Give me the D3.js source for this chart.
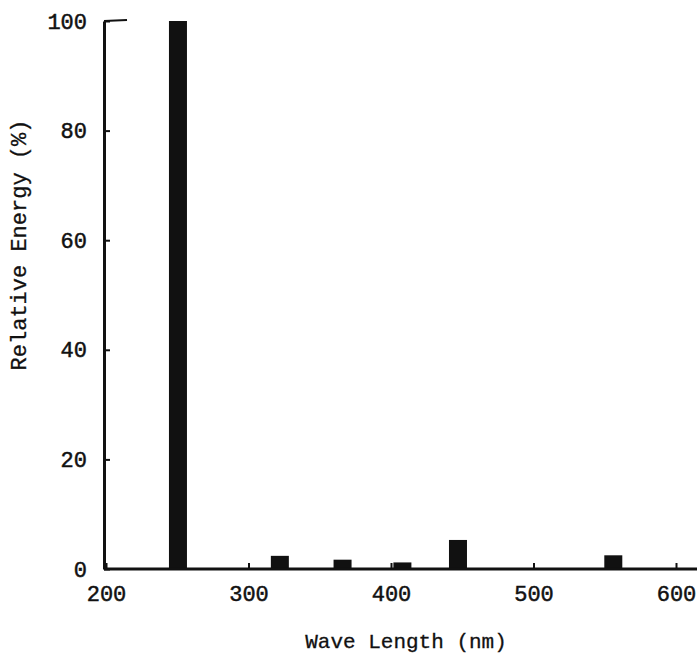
<!DOCTYPE html>
<html><head><meta charset="utf-8">
<script src="https://cdn.jsdelivr.net/npm/d3@7"></script>
<style>body{margin:0;background:#fff}</style>
</head><body>
<svg id="c" width="698" height="656"></svg>
<script>
const wavelengths = [250.5, 322, 366, 408, 447, 556];
const energies = [100, 2.4, 1.7, 1.2, 5.3, 2.5];
const xTicks = [200, 300, 400, 500, 600];
const yTicks = [0, 20, 40, 60, 80, 100];
const xTitle = "Wave Length (nm)";
const yTitle = "Relative Energy (%)";

const svg = d3.select("#c");
const font = "'Liberation Mono', 'DejaVu Sans Mono', monospace";
const x = d3.scaleLinear().domain([200, 600]).range([106, 676]);
const y = d3.scaleLinear().domain([0, 100]).range([569, 21]);
const barW = 18;
const xEnd = 697;

// bars
svg.append("g").selectAll("rect").data(wavelengths).join("rect")
  .attr("x", (d) => x(d) - barW / 2)
  .attr("y", (d, i) => y(energies[i]))
  .attr("width", barW)
  .attr("height", (d, i) => y(0) - y(energies[i]))
  .attr("fill", "#111");

// x axis
const xa = svg.append("g").attr("transform", `translate(0,${y(0)})`)
  .call(d3.axisBottom(x).tickValues(xTicks).tickSizeInner(-6).tickSizeOuter(0).tickPadding(16));
xa.select(".domain").remove();
xa.append("line").attr("x1", 104).attr("x2", xEnd).attr("y1", 0).attr("y2", 0)
  .attr("stroke", "#111").attr("stroke-width", 3);
xa.selectAll(".tick line").attr("stroke", "#111").attr("stroke-width", 2);
xa.selectAll(".tick text").attr("font-family", font).attr("font-size", 22)
  .attr("fill", "#111").attr("stroke", "#111").attr("stroke-width", 0.5);

// y axis
const ya = svg.append("g").attr("transform", `translate(104,0)`)
  .call(d3.axisLeft(y).tickValues(yTicks).tickSizeInner(-6).tickSizeOuter(0).tickPadding(17));
ya.select(".domain").attr("stroke", "#111").attr("stroke-width", 3);
ya.selectAll(".tick line").attr("stroke", "#111").attr("stroke-width", 2);
ya.selectAll(".tick text").attr("font-family", font).attr("font-size", 22)
  .attr("fill", "#111").attr("stroke", "#111").attr("stroke-width", 0.5);
ya.append("line").attr("x1", 0).attr("x2", 23).attr("y1", y(100)).attr("y2", y(100) - 1)
  .attr("stroke", "#111").attr("stroke-width", 2);

// titles
svg.append("text").attr("x", 406).attr("y", 648).attr("text-anchor", "middle")
  .attr("font-family", font).attr("font-size", 21).attr("fill", "#111")
  .attr("stroke", "#111").attr("stroke-width", 0.3).text(xTitle);
svg.append("text").attr("transform", "translate(26,245) rotate(-90)").attr("text-anchor", "middle")
  .attr("font-family", font).attr("font-size", 22).attr("fill", "#111")
  .attr("stroke", "#111").attr("stroke-width", 0.3).text(yTitle);
</script>
</body></html>
